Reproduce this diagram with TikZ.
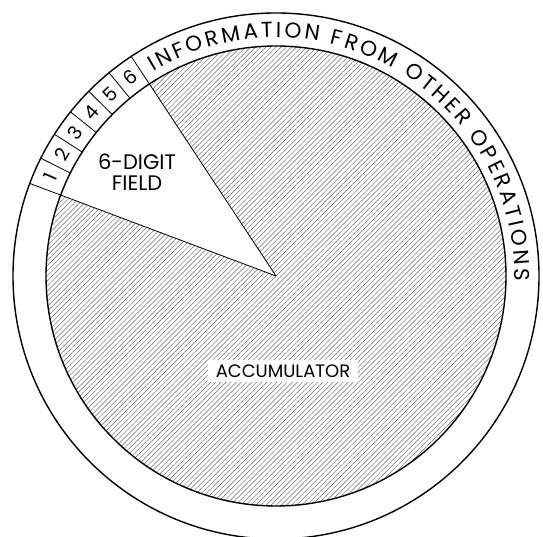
\documentclass[tikz,border=0pt]{standalone}
\usepackage{fontspec}
\setmainfont{Poppins}
\usetikzlibrary{patterns.meta,decorations.text}
\begin{document}
\begin{tikzpicture}[x=1pt,y=1pt,
  rim/.style={line width=1.4pt},
  spoke/.style={line width=0.8pt},
  hatch/.style={pattern={Lines[angle=45,distance=3.6pt,line width=0.45pt]},pattern color=black!60},
  digit/.style={font=\fontsize{19}{19}\selectfont, inner sep=0pt},
  fieldlabel/.style={font=\fontsize{21}{21}\selectfont, align=center, inner sep=0pt},
  acclabel/.style={font=\fontsize{18}{18}\selectfont, fill=white, inner xsep=8pt, minimum height=22pt}
]
\begin{scope}[shift={(276,261)}]
\useasboundingbox (-276,-261) rectangle (267,276);
\coordinate (C) at (0,0);
\def\ri{230}
\def\ro{263}
\fill[hatch] (C) -- (123.4:\ri) arc[start angle=123.4,end angle=-200.6,radius=\ri] -- cycle;
\draw[rim] (C) circle[radius=\ro];
\draw[rim] (C) circle[radius=\ri];
\coordinate (a0) at (123.4:\ro);
\coordinate (a6) at (159.4:\ro);
\draw[spoke] (C) -- (a0);
\draw[spoke] (C) -- (a6);
\foreach \k in {1,...,5}{
  \coordinate (p\k) at ({123.4+6*\k}:\ri);
  \coordinate (q\k) at ({123.4+6*\k}:\ro);
  \draw[spoke] (p\k) -- (q\k);
}
\foreach \d [count=\i] in {6,5,4,3,2,1}{
  \node[digit, rotate={123.4+6*\i-3-90}] (d\d) at ({123.4+6*\i-3}:246.5) {\d};
}
\path[decorate, decoration={text along path,
   text={|\fontsize{21.5}{21.5}\selectfont|INFORMATION FROM OTHER OPERATIONS},
   text align={fit to path}}]
   (121:238.5) arc[start angle=121, end angle=-1.2, radius=238.5];
\node[fieldlabel] (field) at (-139,104) {6-DIGIT\\FIELD};
\node[acclabel] (acc) at (7,-95) {ACCUMULATOR};
\end{scope}
\end{tikzpicture}
\end{document}
